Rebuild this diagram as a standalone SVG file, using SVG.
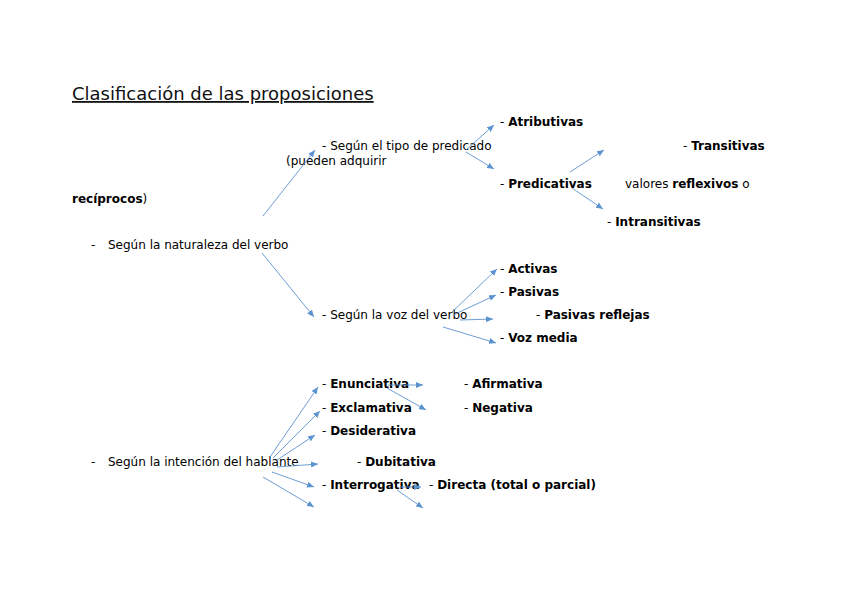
<svg xmlns="http://www.w3.org/2000/svg" width="848" height="599" viewBox="0 0 848 599">
<style>
text{font-family:"DejaVu Sans","Liberation Sans",sans-serif;font-size:12px;fill:#000}
.t{font-size:18px;text-decoration:underline;fill:#111}
.b{font-weight:bold}
.c line{stroke:#5b93d0;stroke-width:0.9;marker-end:url(#ah)}
</style>
<defs>
<marker id="ah" markerUnits="userSpaceOnUse" markerWidth="8" markerHeight="6" refX="7" refY="3" orient="auto">
<path d="M0,0 L7,3 L0,6 z" fill="#5b93d0"/>
</marker>
</defs>
<rect width="848" height="599" fill="#fff"/>
<g id="title"><text class="t" x="72" y="100">Clasificación de las proposiciones</text></g>
<g id="naturaleza"><text x="91" y="249">-</text><text x="108" y="249">Según la naturaleza del verbo</text></g>
<g id="tipo-predicado"><text x="322" y="150">- Según el tipo de predicado</text><text x="286" y="165">(pueden adquirir</text></g>
<g id="reciprocos"><text x="72" y="203"><tspan class="b">recíprocos</tspan>)</text></g>
<g id="atributivas"><text x="500" y="126">- <tspan class="b">Atributivas</tspan></text></g>
<g id="predicativas"><text x="500" y="188">- <tspan class="b">Predicativas</tspan></text></g>
<g id="valores"><text x="625" y="188">valores <tspan class="b">reflexivos</tspan> o</text></g>
<g id="transitivas"><text x="683" y="150">- <tspan class="b">Transitivas</tspan></text></g>
<g id="intransitivas"><text x="607" y="226">- <tspan class="b">Intransitivas</tspan></text></g>
<g id="voz"><text x="322" y="319">- Según la voz del verbo</text></g>
<g id="activas"><text x="500" y="273">- <tspan class="b">Activas</tspan></text></g>
<g id="pasivas"><text x="500" y="296">- <tspan class="b">Pasivas</tspan></text></g>
<g id="pasivas-reflejas"><text x="536" y="319">- <tspan class="b">Pasivas reflejas</tspan></text></g>
<g id="voz-media"><text x="500" y="342">- <tspan class="b">Voz media</tspan></text></g>
<g id="intencion"><text x="91" y="466">-</text><text x="108" y="466">Según la intención del hablante</text></g>
<g id="enunciativa"><text x="322" y="388">- <tspan class="b">Enunciativa</tspan></text></g>
<g id="afirmativa"><text x="464" y="388">- <tspan class="b">Afirmativa</tspan></text></g>
<g id="exclamativa"><text x="322" y="412">- <tspan class="b">Exclamativa</tspan></text></g>
<g id="negativa"><text x="464" y="412">- <tspan class="b">Negativa</tspan></text></g>
<g id="desiderativa"><text x="322" y="435">- <tspan class="b">Desiderativa</tspan></text></g>
<g id="dubitativa"><text x="357" y="466">- <tspan class="b">Dubitativa</tspan></text></g>
<g id="interrogativa"><text x="322" y="489">- <tspan class="b">Interrogativa</tspan></text></g>
<g id="directa"><text x="429" y="489">- <tspan class="b">Directa (total o parcial)</tspan></text></g>
<g id="connectors" class="c">
<line x1="263" y1="216" x2="315" y2="150"/>
<line x1="262" y1="253" x2="314" y2="317"/>
<line x1="466" y1="150" x2="494" y2="125"/>
<line x1="466" y1="152" x2="494" y2="169"/>
<line x1="570" y1="172" x2="604" y2="150"/>
<line x1="572" y1="188" x2="603" y2="209"/>
<line x1="452" y1="312" x2="497" y2="269"/>
<line x1="453" y1="315" x2="496" y2="295"/>
<line x1="460" y1="320" x2="493" y2="319"/>
<line x1="443" y1="327" x2="496" y2="343"/>
<line x1="270" y1="457" x2="318" y2="387"/>
<line x1="273" y1="458" x2="320" y2="411"/>
<line x1="277" y1="460" x2="315" y2="435"/>
<line x1="277" y1="467" x2="318" y2="464"/>
<line x1="272" y1="472" x2="314" y2="487"/>
<line x1="263" y1="477" x2="314" y2="507"/>
<line x1="388" y1="385" x2="423" y2="385"/>
<line x1="387" y1="388" x2="426" y2="410"/>
<line x1="400" y1="487" x2="421" y2="487"/>
<line x1="397" y1="490" x2="423" y2="508"/>
</g>
</svg>
